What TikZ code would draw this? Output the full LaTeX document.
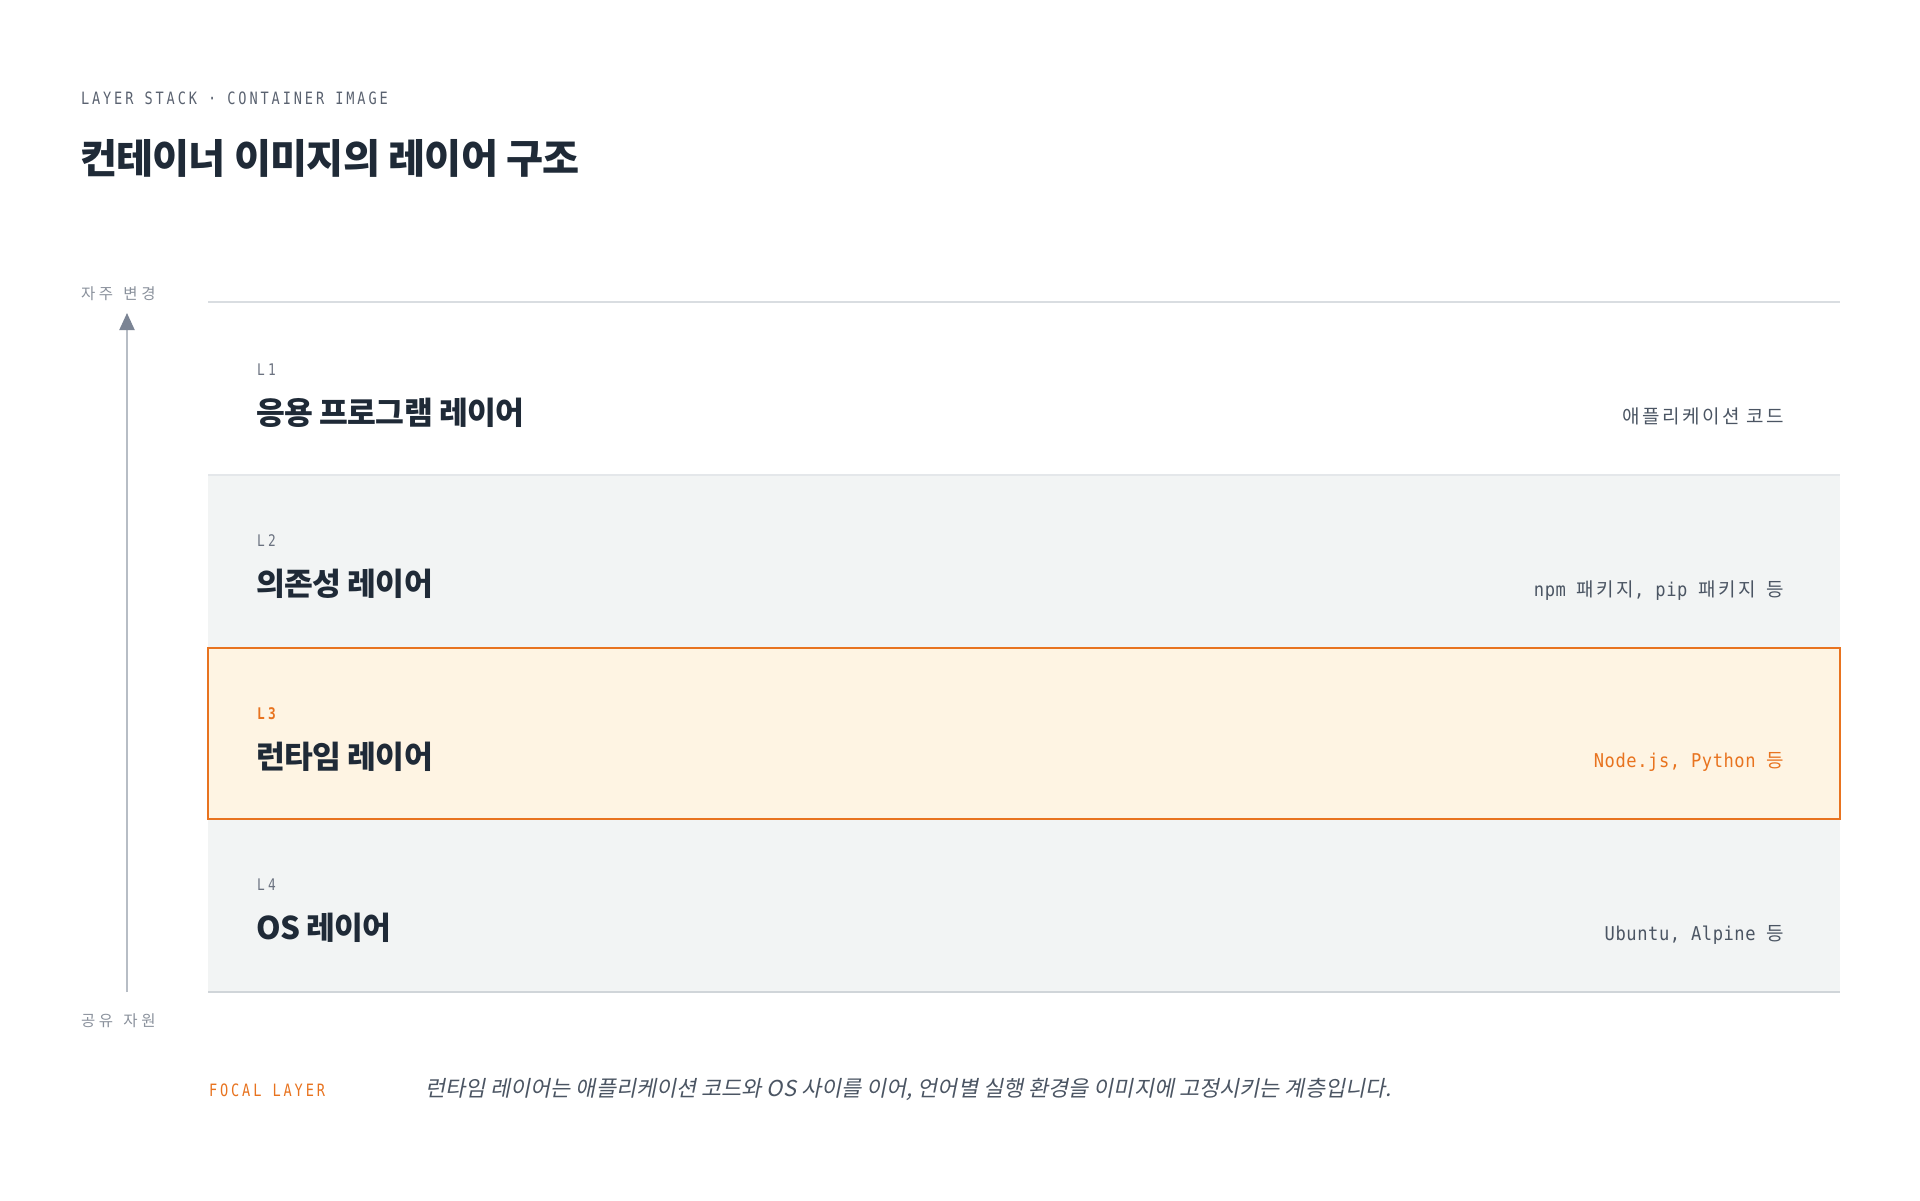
\documentclass[tikz,border=0pt]{standalone}
\usepackage{fontspec}
\setmainfont{Noto Sans CJK KR}
\newfontfamily\kr{Noto Sans CJK KR}
\newfontfamily\krtitle[LetterSpace=-2]{Noto Sans CJK KR}
\newfontfamily\krls[LetterSpace=24]{Noto Sans CJK KR}
\newfontfamily\krit[FakeSlant=0.2]{Noto Sans CJK KR}
\newfontfamily\krmid[LetterSpace=13]{Noto Sans CJK KR}
\newfontfamily\monols[FakeStretch=0.8,LetterSpace=17]{DejaVu Sans Mono}
\newfontfamily\monolbl[FakeStretch=0.8,LetterSpace=22]{DejaVu Sans Mono}
\newfontfamily\monomid[FakeStretch=0.9,LetterSpace=3]{DejaVu Sans Mono}
\newcommand\K[1]{{\fontsize{19}{22}\krmid #1}}
\usetikzlibrary{arrows.meta}
\definecolor{ink}{HTML}{1F2A37}
\definecolor{subgray}{HTML}{4B5563}
\definecolor{lblgray}{HTML}{6B7280}
\definecolor{headgray}{HTML}{5A6270}
\definecolor{axisgray}{HTML}{8A919C}
\definecolor{axisline}{HTML}{B7BDC5}
\definecolor{axishead}{HTML}{7B8494}
\definecolor{rowgray}{HTML}{F2F4F4}
\definecolor{cream}{HTML}{FEF4E3}
\definecolor{accent}{HTML}{E8731F}
\definecolor{topline}{HTML}{D9DDE1}
\definecolor{sepline}{HTML}{E4E7EA}
\definecolor{botline}{HTML}{D0D5D9}
\begin{document}
\begin{tikzpicture}[x=1pt,y=-1pt,
  txt/.style={inner sep=0pt,outer sep=0pt,anchor=west},
  rtxt/.style={inner sep=0pt,outer sep=0pt,anchor=east},
  rowbox/.style={rectangle,inner sep=0pt,outer sep=0pt,minimum width=1632pt,anchor=north west},
  layerlabel/.style={txt,text=lblgray,font=\fontsize{16}{18}\monolbl},
  layertitle/.style={txt,text=ink,font=\fontsize{31.3}{38}\krtitle\bfseries},
  layernote/.style={rtxt,text=subgray,font=\fontsize{19}{22}\monomid},
  axislabel/.style={txt,text=axisgray,font=\fontsize{15.5}{18}\krls},
  axisarrow/.style={line width=2pt,draw=axisline,-{Triangle[length=17pt,width=15pt,color=axishead]}}
]
\useasboundingbox (0,0) rectangle (1920,1200);
\fill[white] (0,0) rectangle (1920,1200);

% header
\node[txt,text=headgray,font=\fontsize{17}{20}\monols] (kicker) at (81,98) {LAYER STACK · CONTAINER IMAGE};
\node[txt,text=ink,font=\fontsize{40.3}{48}\krtitle\bfseries] (title) at (80,158) {컨테이너 이미지의 레이어 구조};

% rows
\node[rowbox,fill=white,minimum height=173pt] (r1) at (208,302) {};
\node[rowbox,fill=rowgray,minimum height=173pt] (r2) at (208,475) {};
\node[rowbox,fill=rowgray,minimum height=173pt] (r4) at (208,819) {};
\node[rowbox,fill=cream,draw=accent,line width=2pt,minimum height=171pt] (r3) at (208,648) {};

\draw[topline,line width=1.5pt] (r1.north west) -- (r1.north east);
\draw[sepline,line width=1.5pt] (r1.south west) -- (r1.south east);
\draw[botline,line width=2pt] (r4.south west) -- (r4.south east);

% L1
\node[layerlabel] (l1) at (257,370) {L1};
\node[layertitle] (t1) at (256,413) {응용 프로그램 레이어};
\node[layernote] (n1) at (1784,416.5) {\K{애플리케이션 코드}};
% L2
\node[layerlabel] (l2) at (257,541) {L2};
\node[layertitle] (t2) at (256,584) {의존성 레이어};
\node[layernote] (n2) at (1784,590.5) {npm \K{패키지}, pip \K{패키지} \K{등}};
% L3
\node[layerlabel,text=accent,font=\fontsize{16}{18}\monolbl\bfseries] (l3) at (257,714) {L3};
\node[layertitle] (t3) at (256,757) {런타임 레이어};
\node[layernote,text=accent] (n3) at (1784,761.5) {Node.js, Python \K{등}};
% L4
\node[layerlabel] (l4) at (257,885) {L4};
\node[layertitle] (t4) at (256,928) {OS 레이어};
\node[layernote] (n4) at (1784,934.5) {Ubuntu, Alpine \K{등}};

% axis
\node[axislabel] (freq) at (81,294) {자주 \hspace{3pt}변경};
\node[axislabel] (shared) at (81,1021) {공유 \hspace{3pt}자원};
\coordinate (abot) at (127,992);
\coordinate (atop) at (127,313);
\draw[axisarrow] (abot) -- (atop);

% footer
\node[txt,text=accent,font=\fontsize{17}{20}\monols] (focal) at (209,1090) {FOCAL LAYER};
\node[txt,text=subgray,font=\fontsize{21.9}{26}\krit] (note) at (425,1089) {런타임 레이어는 애플리케이션 코드와 OS 사이를 이어, 언어별 실행 환경을 이미지에 고정시키는 계층입니다.};
\end{tikzpicture}
\end{document}
